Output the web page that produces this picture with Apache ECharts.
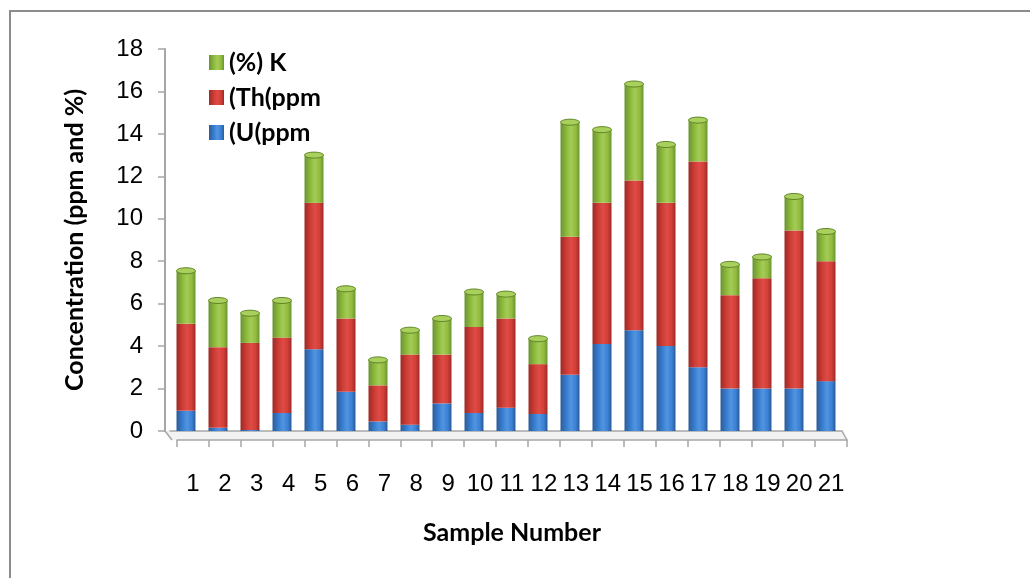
<!DOCTYPE html>
<html>
<head>
<meta charset="utf-8">
<script src="https://cdn.jsdelivr.net/npm/echarts@6/dist/echarts.min.js"></script>
<style>
  html, body { margin: 0; padding: 0; background: #fff; }
  #chart { width: 1030px; height: 578px; }
</style>
</head>
<body>
<div id="chart"></div>
<script>
// Sample numbers along the horizontal axis
const samples = ['1','2','3','4','5','6','7','8','9','10','11','12','13','14','15','16','17','18','19','20','21'];

// Uranium (ppm) per sample
const uranium = [0.95, 0.15, 0.05, 0.85, 3.85, 1.85, 0.45, 0.3, 1.3, 0.85, 1.1, 0.8, 2.65, 4.1, 4.75, 4.0, 3.0, 2.0, 2.0, 2.0, 2.35];
// Thorium (ppm) per sample
const thorium = [4.1, 3.8, 4.1, 3.55, 6.9, 3.45, 1.7, 3.3, 2.3, 4.05, 4.2, 2.35, 6.5, 6.65, 7.05, 6.75, 9.7, 4.4, 5.2, 7.45, 5.65];
// Potassium (%) per sample
const potassium = [2.5, 2.2, 1.4, 1.75, 2.25, 1.4, 1.2, 1.15, 1.7, 1.65, 1.15, 1.2, 5.4, 3.45, 4.55, 2.75, 1.95, 1.45, 1.0, 1.6, 1.4];

const seriesNames = ['(U(ppm', '(Th(ppm', '(%) K'];
const legendOrder = ['(%) K', '(Th(ppm', '(U(ppm'];
const yTicks = { min: 0, max: 18, interval: 2 };

// Plot layout: back wall (bars) and front edge of the floor (labels)
const W = 1030, H = 578;
const back = { left: 170, top: 49, right: 188, bottom: 147 };
const front = { left: 177, top: 49, right: 183, bottom: 138 };
const axisGray = '#a6a6a6';
const barW = 19;
const titleFont = { fontFamily: 'Lato', fontWeight: 'bold', fontSize: 25, color: '#000' };

function cyl(dark, mid, light) {
  return new echarts.graphic.LinearGradient(0, 0, 1, 0, [
    { offset: 0, color: dark },
    { offset: 0.35, color: mid },
    { offset: 0.55, color: light },
    { offset: 0.8, color: mid },
    { offset: 1, color: dark }
  ]);
}
const fills = [
  cyl('#2a5c9c', '#3b80d3', '#5096e2'),
  cyl('#9c2a26', '#d23e38', '#de4c44'),
  cyl('#6b9430', '#90bc3f', '#a5cc57')
];
const values = [uranium, thorium, potassium];
// stack height per sample, used for the cylinder lids
const totals = samples.map((_, i) => uranium[i] + thorium[i] + potassium[i]);

const chart = echarts.init(document.getElementById('chart'), null, { renderer: 'canvas' });

const barSeries = seriesNames.map((name, i) => ({
  name,
  type: 'bar',
  stack: 'total',
  xAxisIndex: 0,
  yAxisIndex: 0,
  barWidth: barW,
  data: values[i],
  itemStyle: { color: fills[i] }
}));

// elliptical lid on top of each stacked column
const lidSeries = {
  type: 'custom',
  xAxisIndex: 0,
  yAxisIndex: 0,
  silent: true,
  z: 3,
  data: totals.map((t, i) => [i, t]),
  renderItem: function (params, api) {
    const p = api.coord([api.value(0), api.value(1)]);
    return {
      type: 'ellipse',
      shape: { cx: p[0], cy: p[1], rx: barW / 2, ry: 3 },
      style: { fill: '#a9cf5c', stroke: '#5f8526', lineWidth: 1 }
    };
  }
};

const option = {
  animation: false,
  backgroundColor: '#ffffff',
  grid: [
    { left: back.left, top: back.top, right: back.right, bottom: back.bottom },
    { left: front.left, top: front.top, right: front.right, bottom: front.bottom }
  ],
  legend: {
    data: legendOrder,
    orient: 'vertical',
    left: 204,
    top: 45,
    itemWidth: 15,
    itemHeight: 15,
    itemGap: 10,
    icon: 'rect',
    textStyle: { fontFamily: 'Lato', fontWeight: 'bold', fontSize: 25, lineHeight: 25, color: '#000' }
  },
  xAxis: [
    {
      type: 'category', gridIndex: 0, data: samples,
      axisLine: { show: true, lineStyle: { color: axisGray, width: 1.5 } },
      axisTick: { show: false },
      axisLabel: { show: false }
    },
    {
      type: 'category', gridIndex: 1, data: samples,
      name: 'Sample Number', nameLocation: 'middle', nameGap: 80,
      nameTextStyle: titleFont,
      axisLine: { show: true, lineStyle: { color: axisGray, width: 1.5 } },
      axisTick: { show: true, length: 7, lineStyle: { color: axisGray, width: 1.5 } },
      axisLabel: { fontFamily: 'Liberation Sans', fontSize: 24, color: '#000', margin: 32, interval: 0 }
    }
  ],
  yAxis: [
    {
      type: 'value', gridIndex: 0, min: yTicks.min, max: yTicks.max, interval: yTicks.interval,
      offset: 5,
      name: 'Concentration (ppm and %)', nameLocation: 'middle', nameGap: 78,
      nameTextStyle: titleFont,
      axisLine: { show: true, lineStyle: { color: axisGray, width: 2 } },
      axisTick: { show: true, length: 7, lineStyle: { color: axisGray, width: 1.5 } },
      splitLine: { show: false },
      axisLabel: { fontFamily: 'Liberation Sans', fontSize: 24, color: '#000', margin: 22 }
    },
    { type: 'value', gridIndex: 1, show: false, min: yTicks.min, max: yTicks.max }
  ],
  series: barSeries.concat([lidSeries]),
  graphic: [
    // outer frame
    { type: 'rect', shape: { x: 10, y: 11, width: W + 20, height: H + 20 },
      style: { fill: 'none', stroke: '#8c8c8c', lineWidth: 2 }, silent: true },
    // floor side edges joining the back wall to the front edge
    { type: 'polyline', shape: { points: [[back.left - 5, H - back.bottom], [front.left - 5, H - front.bottom]] },
      style: { stroke: axisGray, lineWidth: 1.5, fill: 'none' }, silent: true },
    { type: 'polyline', shape: { points: [[W - back.right, H - back.bottom], [W - front.right, H - front.bottom]] },
      style: { stroke: axisGray, lineWidth: 1.5, fill: 'none' }, silent: true },
    { type: 'polygon', z: -1, shape: { points: [
        [back.left - 5, H - back.bottom], [W - back.right, H - back.bottom],
        [W - front.right, H - front.bottom], [front.left - 5, H - front.bottom]] },
      style: { fill: '#f2f2f2' }, silent: true }
  ]
};

chart.setOption(option);
</script>
</body>
</html>
